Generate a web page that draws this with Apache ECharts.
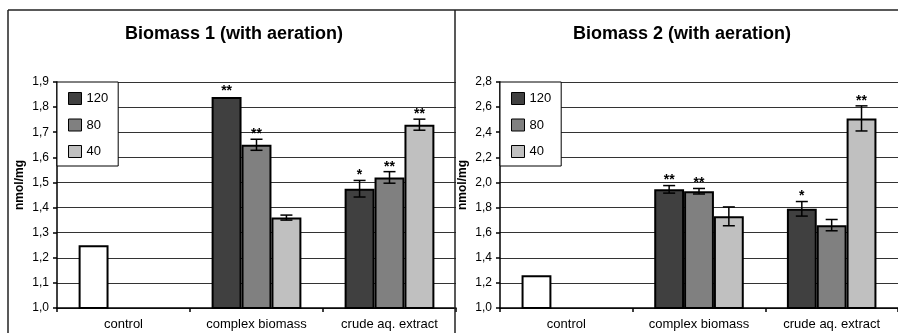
<!DOCTYPE html>
<html>
<head>
<meta charset="utf-8">
<script src="https://cdn.jsdelivr.net/npm/echarts@6/dist/echarts.min.js"></script>
<style>
html,body{margin:0;padding:0;background:#fff;}
#chart{width:898px;height:333px;}
</style>
</head>
<body>
<div id="chart"></div>
<script>
const categories = ['control', 'complex biomass', 'crude aq. extract'];
const seriesNames = ['120', '80', '40'];
const titles = ['Biomass 1 (with aeration)', 'Biomass 2 (with aeration)'];
const yLabel = 'nmol/mg';

// Biomass 1
const b1_120 = [1.25, 1.84, 1.475];
const b1_80 = [null, 1.65, 1.52];
const b1_40 = [null, 1.36, 1.73];
const b1_err120 = [0, 0.005, 0.033];
const b1_err80 = [0, 0.022, 0.023];
const b1_err40 = [0, 0.01, 0.022];
const b1_sig120 = ['', '**', '*'];
const b1_sig80 = ['', '**', '**'];
const b1_sig40 = ['', '', '**'];
const b1_yMin = 1.0, b1_yMax = 1.9, b1_yStep = 0.1;

// Biomass 2
const b2_120 = [1.26, 1.945, 1.79];
const b2_80 = [null, 1.93, 1.66];
const b2_40 = [null, 1.73, 2.51];
const b2_err120 = [0, 0.03, 0.058];
const b2_err80 = [0, 0.022, 0.045];
const b2_err40 = [0, 0.075, 0.1];
const b2_sig120 = ['', '**', '*'];
const b2_sig80 = ['', '**', ''];
const b2_sig40 = ['', '', '**'];
const b2_yMin = 1.0, b2_yMax = 2.8, b2_yStep = 0.2;

const colors = ['#404040', '#808080', '#c0c0c0'];
const controlColor = '#ffffff';
const FONT = '"Liberation Sans", Arial, Helvetica, sans-serif';
const BAR_FRAC = 0.225;

const panels = [
  {vals: [b1_120, b1_80, b1_40], errs: [b1_err120, b1_err80, b1_err40], sigs: [b1_sig120, b1_sig80, b1_sig40], min: b1_yMin, max: b1_yMax, step: b1_yStep},
  {vals: [b2_120, b2_80, b2_40], errs: [b2_err120, b2_err80, b2_err40], sigs: [b2_sig120, b2_sig80, b2_sig40], min: b2_yMin, max: b2_yMax, step: b2_yStep}
];

const grids = [
  {left: 57, top: 82, width: 399, height: 226},
  {left: 500, top: 82, width: 401, height: 226}
];

const series = [];
panels.forEach((p, pi) => {
  p.vals.forEach((arr, si) => {
    series.push({
      type: 'bar',
      name: seriesNames[si],
      xAxisIndex: pi,
      yAxisIndex: pi,
      barWidth: (BAR_FRAC * 100) + '%',
      barGap: '0%',
      itemStyle: {color: colors[si], borderColor: '#000', borderWidth: 2},
      emphasis: {disabled: true},
      data: arr.map((v, ci) => (v == null ? '-' :
        (ci === 0 ? {value: v, itemStyle: {color: controlColor}} : v)))
    });
  });
  const errData = [];
  p.vals.forEach((arr, si) => {
    arr.forEach((v, ci) => {
      if (v != null) errData.push([ci, v, p.errs[si][ci], si, p.sigs[si][ci]]);
    });
  });
  series.push({
    type: 'custom',
    xAxisIndex: pi,
    yAxisIndex: pi,
    z: 5,
    silent: true,
    data: errData.map(d => [d[0], d[1], d[2], d[3]]),
    renderItem: function (params, api) {
      const d = errData[params.dataIndex];
      const band = api.size([1, 0])[0];
      const bw = band * BAR_FRAC;
      const base = api.coord([d[0], d[1]]);
      const x = base[0] + (d[3] - 1) * bw;
      const yTop = api.coord([d[0], d[1] + d[2]])[1];
      const yBot = api.coord([d[0], d[1] - d[2]])[1];
      const children = [];
      const ls = {stroke: '#000', lineWidth: 1.5};
      if (d[2] > 0.006) {
        children.push({type: 'line', shape: {x1: x, y1: yTop, x2: x, y2: yBot}, style: ls});
        children.push({type: 'line', shape: {x1: x - 6, y1: yTop, x2: x + 6, y2: yTop}, style: ls});
        children.push({type: 'line', shape: {x1: x - 6, y1: yBot, x2: x + 6, y2: yBot}, style: ls});
      }
      if (d[4]) {
        const topY = Math.min(yTop, base[1]);
        children.push({type: 'text', x: x, y: topY - 5,
          style: {text: d[4], textAlign: 'center', textVerticalAlign: 'middle',
            font: 'bold 14px ' + FONT, fill: '#000'}});
      }
      return {type: 'group', children: children};
    }
  });
});

const fmt = v => v.toFixed(1).replace('.', ',');

const option = {
  animation: false,
  textStyle: {fontFamily: FONT},
  grid: grids,
  legend: grids.map(g => ({
    data: seriesNames,
    orient: 'vertical',
    left: g.left,
    top: g.top,
    backgroundColor: '#fff',
    borderColor: '#000',
    borderWidth: 1,
    borderRadius: 0,
    padding: [10, 10, 8, 11],
    itemWidth: 13,
    itemHeight: 12,
    itemGap: 13.5,
    selectedMode: false,
    icon: 'rect',
    itemStyle: {borderColor: '#000', borderWidth: 1},
    textStyle: {fontSize: 13, color: '#000', fontFamily: FONT},
    z: 10
  })),
  xAxis: grids.map((g, i) => ({
    type: 'category',
    gridIndex: i,
    data: categories,
    axisLine: {lineStyle: {color: '#000', width: 1.5}},
    axisTick: {show: true, length: 4, lineStyle: {color: '#000', width: 1.5}},
    axisLabel: {color: '#000', fontSize: 13, margin: 10, fontFamily: FONT, interval: 0},
    splitLine: {show: false}
  })),
  yAxis: panels.map((p, i) => ({
    type: 'value',
    gridIndex: i,
    min: p.min,
    max: p.max,
    interval: p.step,
    name: yLabel,
    nameLocation: 'middle',
    nameGap: 31,
    nameTextStyle: {color: '#000', fontSize: 12, fontWeight: 'bold', fontFamily: FONT, padding: [0, 0, 0, 20]},
    axisLine: {show: true, lineStyle: {color: '#000', width: 1.5}},
    axisTick: {show: true, length: 4, lineStyle: {color: '#000', width: 1.5}},
    axisLabel: {color: '#000', fontSize: 12, margin: 8, formatter: fmt, fontFamily: FONT},
    splitLine: {show: true, lineStyle: {color: '#333', width: 1}}
  })),
  series: series,
  graphic: [
    {type: 'line', shape: {x1: 8, y1: 10, x2: 898, y2: 10}, style: {stroke: '#222', lineWidth: 1.5}, z: 20},
    {type: 'line', shape: {x1: 8, y1: 10, x2: 8, y2: 333}, style: {stroke: '#222', lineWidth: 1.5}, z: 20},
    {type: 'line', shape: {x1: 455, y1: 10, x2: 455, y2: 333}, style: {stroke: '#222', lineWidth: 1.5}, z: 20},
    {type: 'text', x: 234, y: 34, style: {text: titles[0], textAlign: 'center', textVerticalAlign: 'middle', font: 'bold 18px ' + FONT, fill: '#000'}},
    {type: 'text', x: 682, y: 34, style: {text: titles[1], textAlign: 'center', textVerticalAlign: 'middle', font: 'bold 18px ' + FONT, fill: '#000'}}
  ]
};

const chart = echarts.init(document.getElementById('chart'), null, {renderer: 'canvas'});
chart.setOption(option);
</script>
</body>
</html>
